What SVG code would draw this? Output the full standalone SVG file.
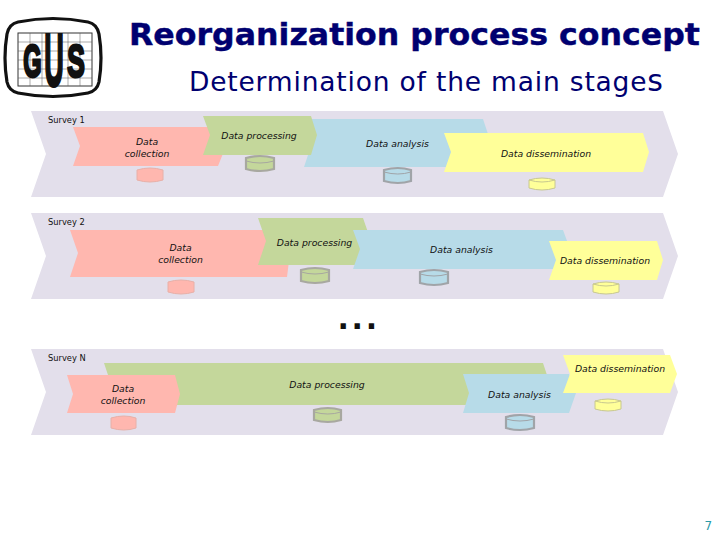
<svg xmlns="http://www.w3.org/2000/svg" width="720" height="540" viewBox="0 0 720 540">
<style>
.band{fill:#e3dfeb}
.pink{fill:#ffb7af}.green{fill:#c4d79b}.blue{fill:#b7dbe8}.yellow{fill:#ffff99}
.l{font-family:"DejaVu Sans",sans-serif;font-style:oblique;font-size:9.3px;fill:#111;text-anchor:middle}
.s{font-family:"DejaVu Sans",sans-serif;font-size:8.300px;fill:#111}
.cp{fill:#ffb7af;stroke:#e8b0a8}.cg{fill:#c4d79b;stroke:#a8a8a0;stroke-width:2.2}.cb{fill:#b7dbe8;stroke:#a0a4a8;stroke-width:2.2}.cy{fill:#ffff99;stroke:#c8c890}
.cap{fill:none}
.t{font-family:"DejaVu Sans",sans-serif;fill:#000070}
.gl{font-family:"Liberation Sans",sans-serif;font-weight:bold;fill:#111;stroke:#111;stroke-width:3;text-anchor:middle}
.grid{stroke:#555;stroke-width:.5;fill:none}
</style>
<g id="logo">
<path d="M18 22Q53 15 88 22Q97 24 99 34Q103 58 99 82Q97 91 88 93Q53 100 18 93Q9 91 7 82Q3 58 7 34Q9 24 18 22Z" fill="#fff" stroke="#111" stroke-width="3.200"/>
<rect x="18" y="33" width="74" height="53" fill="#fff" stroke="#333" stroke-width="1"/>
<path class="grid" d="M18 42H92M18 51H92M18 60H92M18 69H92M18 78H92M30 33V86M80 33V86M42 33V86M68 33V86"/>
<text class="gl" font-size="47" transform="translate(32.500 76.500) scale(.5 1)">G</text>
<text class="gl" font-size="75" transform="translate(54 86) scale(.36 1)">U</text>
<text class="gl" font-size="47" transform="translate(76 76.500) scale(.56 1)">S</text>
</g>
<g id="title">
<text class="t" x="129" y="45" font-size="30.500" font-weight="bold" stroke="#000070" stroke-width=".4" textLength="571" lengthAdjust="spacingAndGlyphs">Reorganization process concept</text>
<text class="t" x="189" y="91" font-size="26.500" textLength="474" lengthAdjust="spacing">Determination of the main stage<tspan font-size="30">s</tspan></text>
</g>
<g id="survey-1">
<path class="band" d="M31 111H663L678 154L663 197H31L46 154Z"/>
<text class="s" x="48" y="123">Survey 1</text>
<g id="s1-collection"><path class="pink" d="M73 127H217L226 146L218 166H73L80 146Z"/><text class="l" x="147" y="145">Data</text><text class="l" x="147" y="157">collection</text></g>
<g id="s1-collection-db"><path class="cp" d="M137 170Q150 166 163 170V180Q150 184 137 180Z"/></g>
<g id="s1-analysis"><path class="blue" d="M304 119H483L491 143L483 167H304L312 143Z"/><text class="l" x="397.500" y="147">Data analysis</text></g>
<g id="s1-processing"><path class="green" d="M203 116H311L317 135L311 155H203L210 135Z"/><text class="l" x="259" y="139">Data processing</text></g>
<g id="s1-processing-db"><path class="cg" d="M246 158Q260 154 274 158V169Q260 173 246 169Z"/><path class="cap" stroke="#a8a8a0" d="M246 161Q260 165 274 161"/></g>
<g id="s1-analysis-db"><path class="cb" d="M384 170Q398 166 411 170V181Q398 185 384 181Z"/><path class="cap" stroke="#a0a4a8" d="M384 172Q398 176 411 172"/></g>
<g id="s1-dissemination"><path class="yellow" d="M444 133H643L649 152L643 172H444L451 152Z"/><text class="l" x="546" y="157">Data dissemination</text></g>
<g id="s1-dissemination-db"><path class="cy" d="M529 180Q542 176 555 180V188Q542 192 529 188Z"/><path class="cap" stroke="#c8c890" d="M529 180Q542 184 555 180"/></g>
</g>
<g id="survey-2">
<path class="band" d="M31 213H663L678 256L663 299H31L46 256Z"/>
<text class="s" x="48" y="225">Survey 2</text>
<g id="s2-collection"><path class="pink" d="M70 230H280L290 253L287 277H70L78 253Z"/><text class="l" x="180.500" y="251">Data</text><text class="l" x="180.500" y="263">collection</text></g>
<g id="s2-collection-db"><path class="cp" d="M168 282Q181 278 194 282V292Q181 296 168 292Z"/></g>
<g id="s2-processing"><path class="green" d="M258 218H363L371 241L363 265H258L266 241Z"/><text class="l" x="314.500" y="246">Data processing</text></g>
<g id="s2-processing-db"><path class="cg" d="M301 270Q315 266 329 270V281Q315 285 301 281Z"/><path class="cap" stroke="#a8a8a0" d="M301 272Q315 276 329 272"/></g>
<g id="s2-analysis"><path class="blue" d="M353 230H563L570 249L563 269H353L360 249Z"/><text class="l" x="461.500" y="253">Data analysis</text></g>
<g id="s2-analysis-db"><path class="cb" d="M420 272Q434 268 448 272V283Q434 287 420 283Z"/><path class="cap" stroke="#a0a4a8" d="M420 274Q434 278 448 274"/></g>
<g id="s2-dissemination"><path class="yellow" d="M549 241H657L663 260L657 280H549L556 260Z"/><text class="l" x="605" y="264">Data dissemination</text></g>
<g id="s2-dissemination-db"><path class="cy" d="M593 284Q606 280 619 284V292Q606 296 593 292Z"/><path class="cap" stroke="#c8c890" d="M593 284Q606 288 619 284"/></g>
</g>
<text x="337.500" y="329" font-family="DejaVu Sans, sans-serif" font-size="30" font-weight="bold" letter-spacing="2.700" fill="#111">...</text>
<g id="survey-n">
<path class="band" d="M31 349H663L678 392L663 435H31L46 392Z"/>
<text class="s" x="48" y="361">Survey N</text>
<g id="sn-processing"><path class="green" d="M104 363H543L550 384L543 405H104L111 384Z"/><text class="l" x="327" y="388">Data processing</text></g>
<g id="sn-processing-db"><path class="cg" d="M314 410Q328 406 341 410V420Q328 424 314 420Z"/><path class="cap" stroke="#a8a8a0" d="M314 412Q328 416 341 412"/></g>
<g id="sn-collection"><path class="pink" d="M67 375H175L180 394L175 413H67L73 394Z"/><text class="l" x="123" y="392">Data</text><text class="l" x="123" y="404">collection</text></g>
<g id="sn-collection-db"><path class="cp" d="M111 418Q124 414 136 418V428Q124 432 111 428Z"/></g>
<g id="sn-analysis"><path class="blue" d="M463 374H569L576 393L569 413H463L469 393Z"/><text class="l" x="519.500" y="398">Data analysis</text></g>
<g id="sn-analysis-db"><path class="cb" d="M506 417Q520 413 534 417V428Q520 432 506 428Z"/><path class="cap" stroke="#a0a4a8" d="M506 419Q520 423 534 419"/></g>
<g id="sn-dissemination"><path class="yellow" d="M563 355H670L677 374L670 393H563L570 374Z"/><text class="l" x="620" y="372">Data dissemination</text></g>
<g id="sn-dissemination-db"><path class="cy" d="M595 401Q608 397 621 401V409Q608 413 595 409Z"/><path class="cap" stroke="#c8c890" d="M595 401Q608 405 621 401"/></g>
</g>
<text x="704.500" y="530" font-family="DejaVu Sans, sans-serif" font-size="12" fill="#2a9aa8">7</text>
</svg>
